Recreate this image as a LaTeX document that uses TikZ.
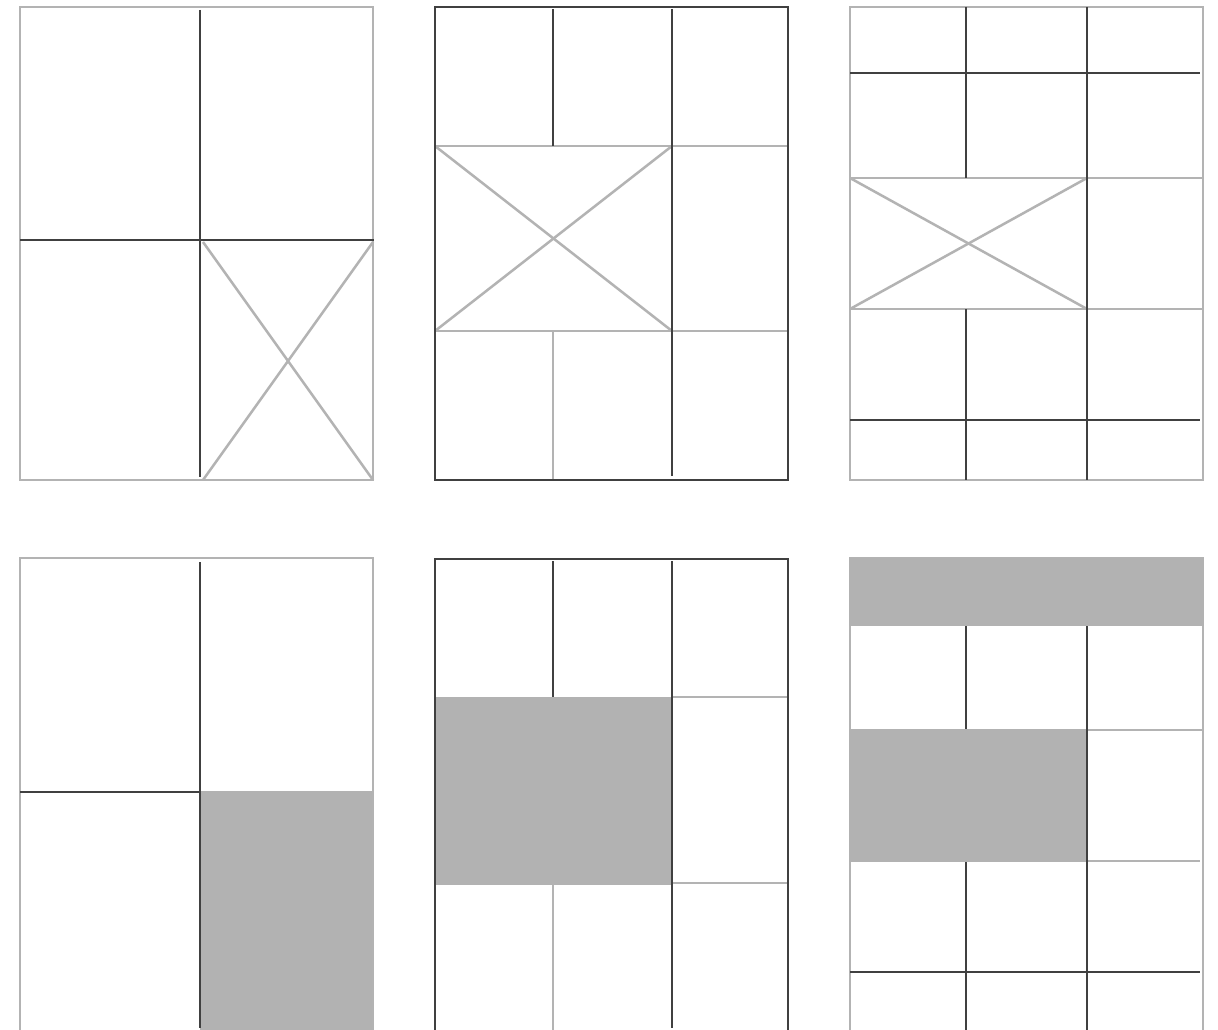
\documentclass[tikz,border=0pt]{standalone}
\definecolor{lgrey}{HTML}{B3B3B3}
\definecolor{dgrey}{HTML}{404040}
\definecolor{fgrey}{HTML}{B2B2B2}
\tikzset{
  gl/.style={draw=lgrey, line width=2.5pt},
  dl/.style={draw=dgrey, line width=2.8pt},
  fbox/.style={fill=fgrey, draw=none},
}
\begin{document}
\begin{tikzpicture}[x=1pt,y=-1pt]
\useasboundingbox (0,0) rectangle (1218,1030);
\clip (0,0) rectangle (1218,1030);
\fill[white] (0,0) rectangle (1218,1030);
% ---------- Panel 1 ----------
\draw[gl] (20,7) rectangle (373,480);
\draw[gl] (203,242) -- (373,480);
\draw[gl] (373,242) -- (203,480);
\draw[dl] (200,10) -- (200,477);
\draw[dl] (20,240) -- (374,240);
% ---------- Panel 2 ----------
\draw[gl] (435,146) -- (788,146);
\draw[gl] (435,331) -- (788,331);
\draw[gl] (435,146) -- (672,331);
\draw[gl] (672,146) -- (435,331);
\draw[gl] (553,331) -- (553,480);
\draw[dl] (553,9) -- (553,146);
\draw[dl] (672,9) -- (672,476);
\draw[dl] (435,7) rectangle (788,480);
% ---------- Panel 3 ----------
\draw[gl] (850,7) rectangle (1203,480);
\draw[gl] (850,178) -- (1203,178);
\draw[gl] (850,309) -- (1203,309);
\draw[gl] (850,178) -- (1087,309);
\draw[gl] (1087,178) -- (850,309);
\draw[dl] (966,7) -- (966,178);
\draw[dl] (966,309) -- (966,480);
\draw[dl] (1087,7) -- (1087,480);
\draw[dl] (850,73) -- (1200,73);
\draw[dl] (850,420) -- (1200,420);
% ---------- Panel 4 ----------
\fill[fbox] (200,791) rectangle (374,1040);
\draw[gl] (20,1040) -- (20,558) -- (373,558) -- (373,1040);
\draw[dl] (200,562) -- (200,1028);
\draw[dl] (20,792) -- (200,792);
% ---------- Panel 5 ----------
\fill[fbox] (435,697) rectangle (672,885);
\draw[gl] (672,697) -- (788,697);
\draw[gl] (672,883) -- (788,883);
\draw[gl] (553,885) -- (553,1040);
\draw[dl] (553,561) -- (553,697);
\draw[dl] (672,561) -- (672,1028);
\draw[dl] (435,1040) -- (435,559) -- (788,559) -- (788,1040);
% ---------- Panel 6 ----------
\draw[gl] (850,1040) -- (850,558) -- (1203,558) -- (1203,1040);
\fill[fbox] (849,558) rectangle (1204,626);
\fill[fbox] (849,729) rectangle (1087,862);
\draw[gl] (1087,730) -- (1203,730);
\draw[gl] (1087,861) -- (1200,861);
\draw[dl] (966,626) -- (966,729);
\draw[dl] (966,862) -- (966,1040);
\draw[dl] (1087,626) -- (1087,1040);
\draw[dl] (850,972) -- (1200,972);
\end{tikzpicture}
\end{document}
